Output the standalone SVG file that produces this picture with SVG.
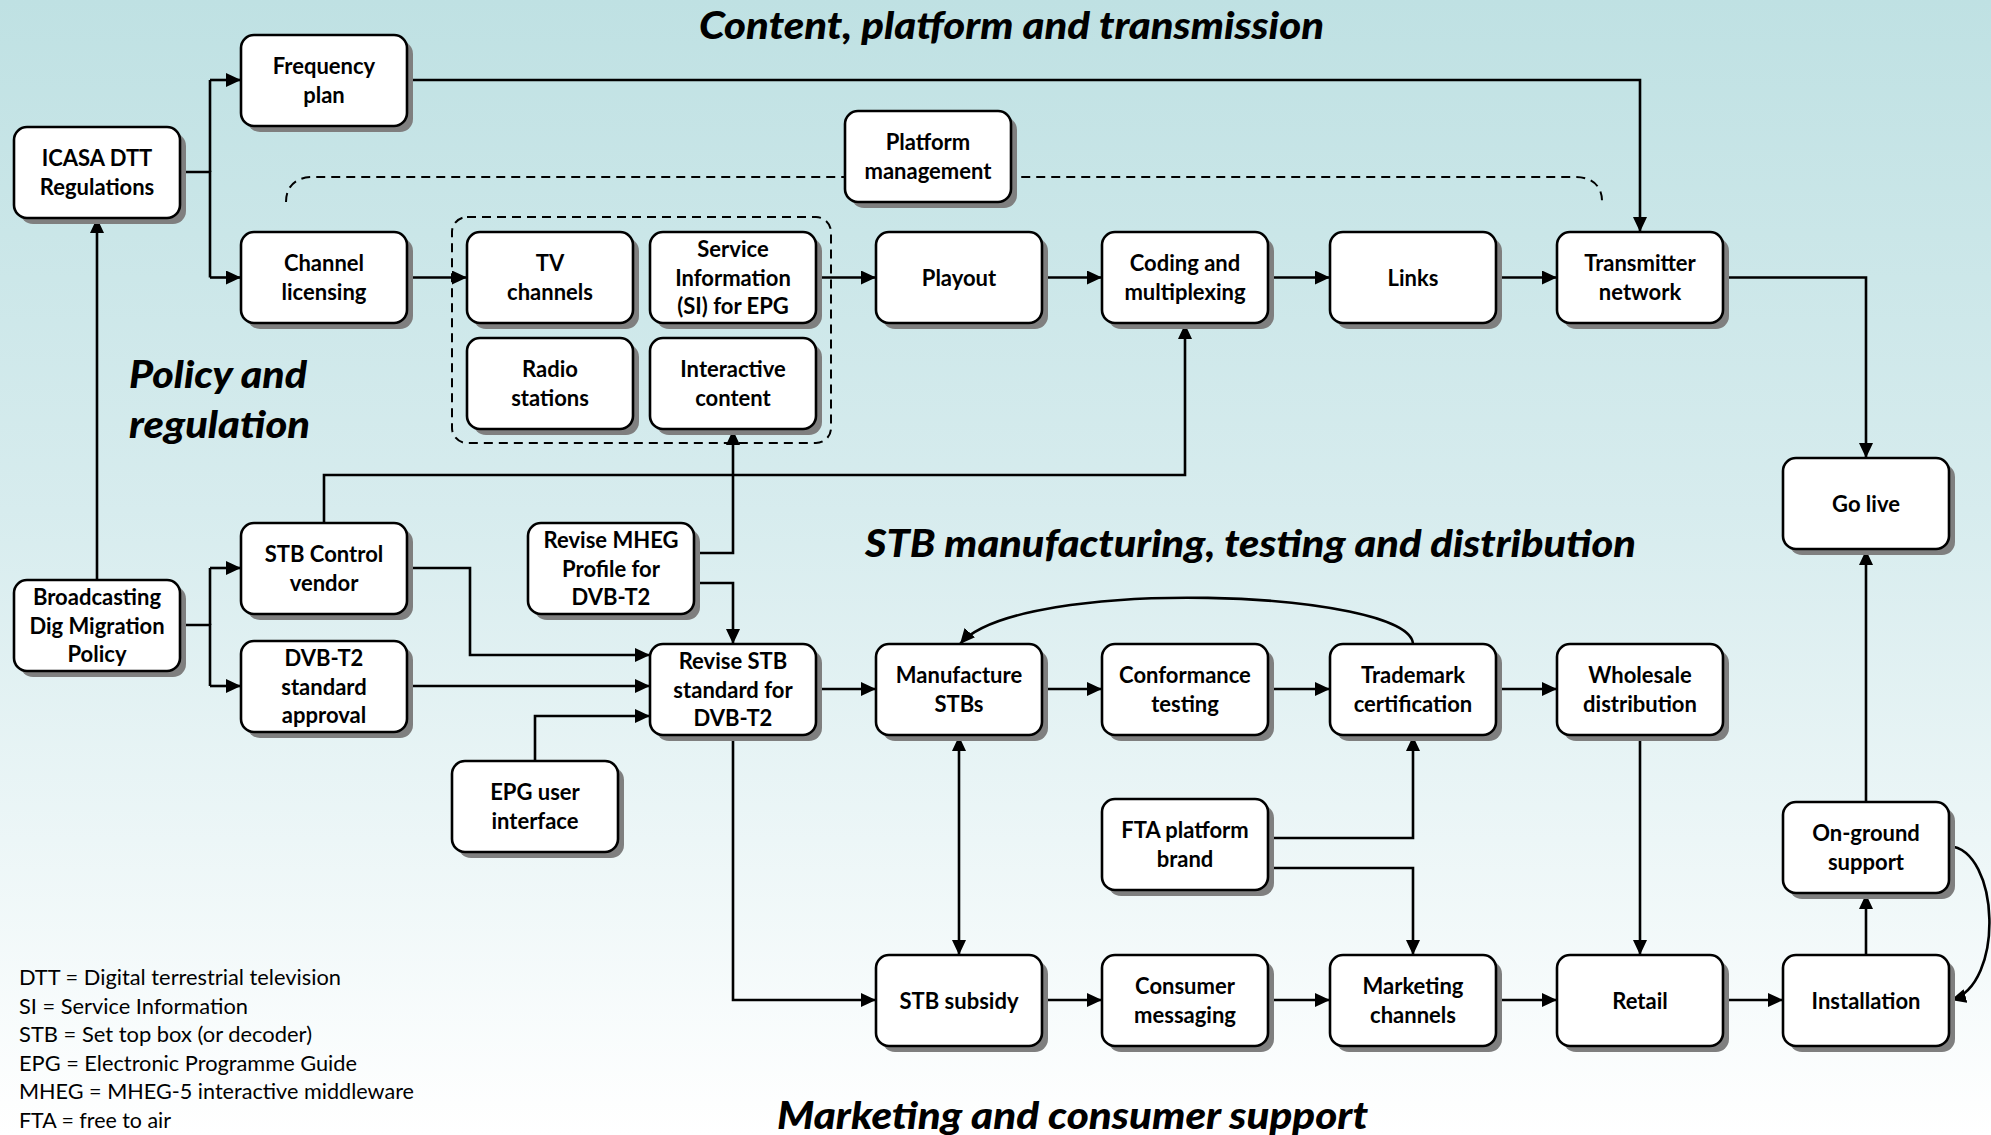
<svg xmlns="http://www.w3.org/2000/svg" width="1991" height="1135" viewBox="0 0 1991 1135">
<defs>
<linearGradient id="bg" x1="0" y1="0" x2="0" y2="1">
<stop offset="0" stop-color="#bfe1e3"/>
<stop offset="0.45" stop-color="#d7ecee"/>
<stop offset="1" stop-color="#ffffff"/>
</linearGradient>
<marker id="ah" markerUnits="userSpaceOnUse" markerWidth="15" markerHeight="14" refX="15" refY="7" orient="auto-start-reverse" viewBox="0 0 15 14">
<path d="M0,0 L15,7 L0,14 z" fill="#000"/>
</marker>
<style>
.box{fill:#fff;stroke:#000;stroke-width:2.6}
.sh{fill:#7f7f7f}
.lbl{font-family:Lato,"Open Sans","Noto Sans",sans-serif;font-weight:bold;font-size:22px;text-anchor:middle;fill:#000}
.ttl{font-family:Lato,"Open Sans","Noto Sans",sans-serif;font-weight:900;font-style:italic;fill:#000}
.leg{font-family:Lato,"Open Sans","Noto Sans",sans-serif;font-size:21px;fill:#000}
.ln{fill:none;stroke:#000;stroke-width:2.6}
.arr{marker-end:url(#ah)}
.dash{fill:none;stroke:#000;stroke-width:2;stroke-dasharray:9 6}
</style>
</defs>
<rect x="0" y="0" width="1991" height="1135" fill="url(#bg)"/>

<!-- titles -->
<text class="ttl" x="699" y="39" font-size="38" textLength="625" lengthAdjust="spacingAndGlyphs">Content, platform and transmission</text>
<text class="ttl" x="129" y="388" font-size="38" textLength="178" lengthAdjust="spacingAndGlyphs">Policy and</text>
<text class="ttl" x="129" y="438" font-size="38" textLength="181" lengthAdjust="spacingAndGlyphs">regulation</text>
<text class="ttl" x="865" y="557" font-size="38" textLength="771" lengthAdjust="spacingAndGlyphs">STB manufacturing, testing and distribution</text>
<text class="ttl" x="777" y="1129" font-size="38" textLength="591" lengthAdjust="spacingAndGlyphs">Marketing and consumer support</text>

<!-- legend -->
<g id="legend">
<text class="leg" x="19" y="985" textLength="322" lengthAdjust="spacingAndGlyphs">DTT = Digital terrestrial television</text>
<text class="leg" x="19" y="1013.6" textLength="229" lengthAdjust="spacingAndGlyphs">SI = Service Information</text>
<text class="leg" x="19" y="1042.2" textLength="293" lengthAdjust="spacingAndGlyphs">STB = Set top box (or decoder)</text>
<text class="leg" x="19" y="1070.8" textLength="338" lengthAdjust="spacingAndGlyphs">EPG = Electronic Programme Guide</text>
<text class="leg" x="19" y="1099.4" textLength="395" lengthAdjust="spacingAndGlyphs">MHEG = MHEG-5 interactive middleware</text>
<text class="leg" x="19" y="1128" textLength="152" lengthAdjust="spacingAndGlyphs">FTA = free to air</text>
</g>

<!-- dashed container and platform line -->
<g id="content-group">
<rect class="dash" x="452" y="217" width="379" height="226" rx="15"/>
<path class="dash" d="M286,202 C286,186 296,177 313,177 H1575 C1592,177 1602,186 1602,201"/>
</g>

<!-- connectors -->
<g id="connectors">
<path class="ln" d="M180,172 H210 V277.5"/>
<path class="ln arr" d="M210,80 H241"/>
<path class="ln" d="M210,80 V172"/>
<path class="ln arr" d="M210,277.5 H241"/>
<path class="ln arr" d="M407,80 H1640 V232"/>
<path class="ln arr" d="M407,277.5 H467"/>
<path class="ln arr" d="M816,277.5 H876"/>
<path class="ln arr" d="M1042,277.5 H1102"/>
<path class="ln arr" d="M1268,277.5 H1330"/>
<path class="ln arr" d="M1496,277.5 H1557"/>
<path class="ln arr" d="M1723,277.5 H1866 V458"/>
<path class="ln arr" d="M97,580 V218"/>
<path class="ln" d="M180,625 H210 V686"/>
<path class="ln" d="M210,568 V625"/>
<path class="ln arr" d="M210,568 H241"/>
<path class="ln arr" d="M210,686 H241"/>
<path class="ln arr" d="M324,523 V475 H1185 V324"/>
<path class="ln arr" d="M407,568 H470 V655 H650"/>
<path class="ln arr" d="M407,686 H650"/>
<path class="ln arr" d="M535,761 V716 H650"/>
<path class="ln arr" d="M694,553 H733 V430"/>
<path class="ln arr" d="M694,583 H733 V644"/>
<path class="ln arr" d="M816,689 H876"/>
<path class="ln arr" d="M733,735 V1000 H876"/>
<path class="ln arr" d="M959,736 V955" marker-start="url(#ah)"/>
<path class="ln arr" d="M1042,689 H1102"/>
<path class="ln arr" d="M1268,689 H1330"/>
<path class="ln arr" d="M1496,689 H1557"/>
<path class="ln arr" d="M1413,644 C1410,590 1020,575 960,644"/>
<path class="ln arr" d="M1268,838 H1413 V736"/>
<path class="ln arr" d="M1268,868 H1413 V955"/>
<path class="ln arr" d="M1640,735 V955"/>
<path class="ln arr" d="M1042,1000 H1102"/>
<path class="ln arr" d="M1268,1000 H1330"/>
<path class="ln arr" d="M1496,1000 H1557"/>
<path class="ln arr" d="M1723,1000 H1783"/>
<path class="ln arr" d="M1866,955 V894"/>
<path class="ln arr" d="M1866,802 V550"/>
<path class="ln arr" d="M1949,846 C2000,850 2005,985 1951,1000"/>
</g>

<!-- nodes -->
<g id="n-icasa"><rect class="sh" x="20" y="133" width="166" height="91" rx="13"/><rect class="box" x="14" y="127" width="166" height="91" rx="13"/><text class="lbl"><tspan x="97" y="166">ICASA DTT</tspan><tspan x="97" y="194.5">Regulations</tspan></text></g>
<g id="n-freq"><rect class="sh" x="247" y="41" width="166" height="91" rx="13"/><rect class="box" x="241" y="35" width="166" height="91" rx="13"/><text class="lbl"><tspan x="324" y="74">Frequency</tspan><tspan x="324" y="102.5">plan</tspan></text></g>
<g id="n-chlic"><rect class="sh" x="247" y="238" width="166" height="91" rx="13"/><rect class="box" x="241" y="232" width="166" height="91" rx="13"/><text class="lbl"><tspan x="324" y="271">Channel</tspan><tspan x="324" y="299.5">licensing</tspan></text></g>
<g id="n-tv"><rect class="sh" x="473" y="238" width="166" height="91" rx="13"/><rect class="box" x="467" y="232" width="166" height="91" rx="13"/><text class="lbl"><tspan x="550" y="271">TV</tspan><tspan x="550" y="299.5">channels</tspan></text></g>
<g id="n-si"><rect class="sh" x="656" y="238" width="166" height="91" rx="13"/><rect class="box" x="650" y="232" width="166" height="91" rx="13"/><text class="lbl"><tspan x="733" y="257">Service</tspan><tspan x="733" y="285.5">Information</tspan><tspan x="733" y="314">(SI) for EPG</tspan></text></g>
<g id="n-radio"><rect class="sh" x="473" y="344" width="166" height="91" rx="13"/><rect class="box" x="467" y="338" width="166" height="91" rx="13"/><text class="lbl"><tspan x="550" y="377">Radio</tspan><tspan x="550" y="405.5">stations</tspan></text></g>
<g id="n-inter"><rect class="sh" x="656" y="344" width="166" height="91" rx="13"/><rect class="box" x="650" y="338" width="166" height="91" rx="13"/><text class="lbl"><tspan x="733" y="377">Interactive</tspan><tspan x="733" y="405.5">content</tspan></text></g>
<g id="n-platmgmt"><rect class="sh" x="851" y="117" width="166" height="91" rx="13"/><rect class="box" x="845" y="111" width="166" height="91" rx="13"/><text class="lbl"><tspan x="928" y="150">Platform</tspan><tspan x="928" y="178.5">management</tspan></text></g>
<g id="n-playout"><rect class="sh" x="882" y="238" width="166" height="91" rx="13"/><rect class="box" x="876" y="232" width="166" height="91" rx="13"/><text class="lbl"><tspan x="959" y="285.5">Playout</tspan></text></g>
<g id="n-coding"><rect class="sh" x="1108" y="238" width="166" height="91" rx="13"/><rect class="box" x="1102" y="232" width="166" height="91" rx="13"/><text class="lbl"><tspan x="1185" y="271">Coding and</tspan><tspan x="1185" y="299.5">multiplexing</tspan></text></g>
<g id="n-links"><rect class="sh" x="1336" y="238" width="166" height="91" rx="13"/><rect class="box" x="1330" y="232" width="166" height="91" rx="13"/><text class="lbl"><tspan x="1413" y="285.5">Links</tspan></text></g>
<g id="n-trans"><rect class="sh" x="1563" y="238" width="166" height="91" rx="13"/><rect class="box" x="1557" y="232" width="166" height="91" rx="13"/><text class="lbl"><tspan x="1640" y="271">Transmitter</tspan><tspan x="1640" y="299.5">network</tspan></text></g>
<g id="n-golive"><rect class="sh" x="1789" y="464" width="166" height="91" rx="13"/><rect class="box" x="1783" y="458" width="166" height="91" rx="13"/><text class="lbl"><tspan x="1866" y="511.5">Go live</tspan></text></g>
<g id="n-stbctl"><rect class="sh" x="247" y="529" width="166" height="91" rx="13"/><rect class="box" x="241" y="523" width="166" height="91" rx="13"/><text class="lbl"><tspan x="324" y="562">STB Control</tspan><tspan x="324" y="590.5">vendor</tspan></text></g>
<g id="n-mheg"><rect class="sh" x="534" y="529" width="166" height="91" rx="13"/><rect class="box" x="528" y="523" width="166" height="91" rx="13"/><text class="lbl"><tspan x="611" y="548">Revise MHEG</tspan><tspan x="611" y="576.5">Profile for</tspan><tspan x="611" y="605">DVB-T2</tspan></text></g>
<g id="n-bdmp"><rect class="sh" x="20" y="586" width="166" height="91" rx="13"/><rect class="box" x="14" y="580" width="166" height="91" rx="13"/><text class="lbl"><tspan x="97" y="605">Broadcasting</tspan><tspan x="97" y="633.5">Dig Migration</tspan><tspan x="97" y="662">Policy</tspan></text></g>
<g id="n-dvbt2"><rect class="sh" x="247" y="647" width="166" height="91" rx="13"/><rect class="box" x="241" y="641" width="166" height="91" rx="13"/><text class="lbl"><tspan x="324" y="666">DVB-T2</tspan><tspan x="324" y="694.5">standard</tspan><tspan x="324" y="723">approval</tspan></text></g>
<g id="n-revstb"><rect class="sh" x="656" y="650" width="166" height="91" rx="13"/><rect class="box" x="650" y="644" width="166" height="91" rx="13"/><text class="lbl"><tspan x="733" y="669">Revise STB</tspan><tspan x="733" y="697.5">standard for</tspan><tspan x="733" y="726">DVB-T2</tspan></text></g>
<g id="n-manuf"><rect class="sh" x="882" y="650" width="166" height="91" rx="13"/><rect class="box" x="876" y="644" width="166" height="91" rx="13"/><text class="lbl"><tspan x="959" y="683">Manufacture</tspan><tspan x="959" y="711.5">STBs</tspan></text></g>
<g id="n-conf"><rect class="sh" x="1108" y="650" width="166" height="91" rx="13"/><rect class="box" x="1102" y="644" width="166" height="91" rx="13"/><text class="lbl"><tspan x="1185" y="683">Conformance</tspan><tspan x="1185" y="711.5">testing</tspan></text></g>
<g id="n-tm"><rect class="sh" x="1336" y="650" width="166" height="91" rx="13"/><rect class="box" x="1330" y="644" width="166" height="91" rx="13"/><text class="lbl"><tspan x="1413" y="683">Trademark</tspan><tspan x="1413" y="711.5">certification</tspan></text></g>
<g id="n-whole"><rect class="sh" x="1563" y="650" width="166" height="91" rx="13"/><rect class="box" x="1557" y="644" width="166" height="91" rx="13"/><text class="lbl"><tspan x="1640" y="683">Wholesale</tspan><tspan x="1640" y="711.5">distribution</tspan></text></g>
<g id="n-epg"><rect class="sh" x="458" y="767" width="166" height="91" rx="13"/><rect class="box" x="452" y="761" width="166" height="91" rx="13"/><text class="lbl"><tspan x="535" y="800">EPG user</tspan><tspan x="535" y="828.5">interface</tspan></text></g>
<g id="n-fta"><rect class="sh" x="1108" y="805" width="166" height="91" rx="13"/><rect class="box" x="1102" y="799" width="166" height="91" rx="13"/><text class="lbl"><tspan x="1185" y="838">FTA platform</tspan><tspan x="1185" y="866.5">brand</tspan></text></g>
<g id="n-onground"><rect class="sh" x="1789" y="808" width="166" height="91" rx="13"/><rect class="box" x="1783" y="802" width="166" height="91" rx="13"/><text class="lbl"><tspan x="1866" y="841">On-ground</tspan><tspan x="1866" y="869.5">support</tspan></text></g>
<g id="n-subsidy"><rect class="sh" x="882" y="961" width="166" height="91" rx="13"/><rect class="box" x="876" y="955" width="166" height="91" rx="13"/><text class="lbl"><tspan x="959" y="1008.5">STB subsidy</tspan></text></g>
<g id="n-consumer"><rect class="sh" x="1108" y="961" width="166" height="91" rx="13"/><rect class="box" x="1102" y="955" width="166" height="91" rx="13"/><text class="lbl"><tspan x="1185" y="994">Consumer</tspan><tspan x="1185" y="1022.5">messaging</tspan></text></g>
<g id="n-mkt"><rect class="sh" x="1336" y="961" width="166" height="91" rx="13"/><rect class="box" x="1330" y="955" width="166" height="91" rx="13"/><text class="lbl"><tspan x="1413" y="994">Marketing</tspan><tspan x="1413" y="1022.5">channels</tspan></text></g>
<g id="n-retail"><rect class="sh" x="1563" y="961" width="166" height="91" rx="13"/><rect class="box" x="1557" y="955" width="166" height="91" rx="13"/><text class="lbl"><tspan x="1640" y="1008.5">Retail</tspan></text></g>
<g id="n-install"><rect class="sh" x="1789" y="961" width="166" height="91" rx="13"/><rect class="box" x="1783" y="955" width="166" height="91" rx="13"/><text class="lbl"><tspan x="1866" y="1008.5">Installation</tspan></text></g>
</svg>
